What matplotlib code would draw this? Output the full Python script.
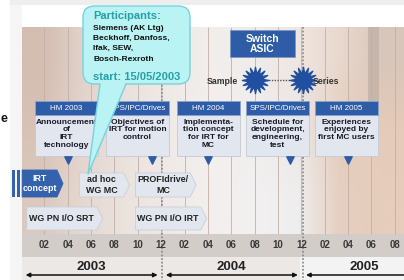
import numpy as np
import matplotlib.pyplot as plt
from matplotlib.colors import to_rgb
from matplotlib.patches import Rectangle, Polygon, FancyBboxPatch
from matplotlib.path import Path

plt.rcParams['font.family'] = ['Liberation Sans', 'DejaVu Sans']

# timeline (months counted from Jan 2003)
tick_months = [2, 4, 6, 8, 10, 12, 14, 16, 18, 20, 22, 24, 26, 28, 30, 32]
tick_labels = ['02', '04', '06', '08', '10', '12', '02', '04', '06', '08', '10', '12',
               '02', '04', '06', '08']
years = ['2003', '2004', '2005']
year_edges = [0, 12, 24, 36]
year_label_months = [6, 18, 29.4]

# fairs
milestone_months = [4, 11.2, 16, 23, 28]
milestone_events = ['HM 2003', 'SPS/IPC/Drives', 'HM 2004', 'SPS/IPC/Drives', 'HM 2005']
milestone_texts = ['Announcement\nof\nIRT\ntechnology',
                   'Objectives of\nIRT for motion\ncontrol',
                   'Implementa-\ntion concept\nfor IRT for\nMC',
                   'Schedule for\ndevelopment,\nengineering,\ntest',
                   'Experiences\nenjoyed by\nfirst MC users']

# working group phases
phase_names = ['IRT\nconcept', 'ad hoc\nWG MC', 'PROFIdrive/\nMC', 'WG PN I/O SRT', 'WG PN I/O IRT']
phase_start = [0.1, 5.0, 9.8, 0.5, 9.8]
phase_end = [3.6, 9.3, 15.0, 7.0, 15.9]
phase_row = [0, 0, 0, 1, 1]

participants = ['Siemens (AK Ltg)', 'Beckhoff, Danfoss,', 'Ifak, SEW,', 'Bosch-Rexroth']
start_date = '15/05/2003'

asic_months = [20.0, 24.1]
asic_labels = ['Sample', 'Series']

# layout helpers: pixel x -> month
X0, PXM = 20.95, 11.683
def px(x):
    return (x - X0) / PXM

BLUE = '#2e5ca7'
BOX = '#e2e6ee'

fig = plt.figure(figsize=(4.04, 2.80), dpi=100)
ax = fig.add_axes([0, 0, 1, 1])
ax.set_xlim(px(0), px(404))
ax.set_ylim(280, 0)
ax.axis('off')

# slide frame
ax.add_patch(Rectangle((px(10), 0), px(404) - px(10), 4.5, fc='#eeeeee', ec='none', zorder=0))
ax.add_patch(Rectangle((px(10), 4.5), px(22) - px(10), 280, fc='#f5f5f5', ec='none', zorder=0))
ax.text(px(0.5), 119, 'e', ha='left', va='center', fontsize=9, fontweight='bold', color='#111')

# photo background
bg = [['#d4bdb1', '#e2d3cb', '#ebe1dc', '#efe9e6', '#f1eeec', '#f0ecea', '#efe6e1', '#e9d8cd', '#d8c6bb'],
      ['#d8c2b6', '#e4d5cd', '#ece2dd', '#f0ebe8', '#f3f0ef', '#f1eeee', '#ece6e4', '#e6cdbd', '#e5cbb9'],
      ['#dcc9be', '#e6d9d2', '#ebe3de', '#efeae7', '#f2efee', '#f2f0f0', '#efeeee', '#e5cfc0', '#e6cdbc']]
img = np.array([[to_rgb(c) for c in row] for row in bg])
ax.imshow(img, extent=(px(22), px(404), 234, 27), aspect='auto', interpolation='bilinear', zorder=0)
ax.add_patch(Rectangle((px(368), 27), 11 / PXM, 80, fc='#bfaea4', ec='none', alpha=0.7, zorder=0.5))
ax.add_patch(Rectangle((px(22), 234), px(404) - px(22), 23, fc='#d3cdc9', ec='none', zorder=0.5))
ax.add_patch(Rectangle((px(22), 257), px(404) - px(22), 23, fc='#ebe8e6', ec='none', zorder=0.5))
ax.add_patch(Rectangle((px(300), 257), px(404) - px(300), 23, fc='#f4f3f3', ec='none', zorder=0.6))

ax.vlines(tick_months, 27, 234, colors='#bfb0a8', lw=0.6, zorder=1)
ax.vlines([year_edges[1] + 0.1, year_edges[2] + 0.1], 27, 280, colors='#8f8f8f',
          linestyles=(0, (1, 1)), lw=1.3, zorder=2)

# month ticks and years
for m, lab in zip(tick_months, tick_labels):
    ax.text(m, 245, lab, ha='center', va='center', fontsize=7, fontweight='bold', color='#3a3a3a', zorder=3)
for i, y in enumerate(years):
    ax.annotate('', xy=(year_edges[i] + 0.4, 275), xytext=(year_edges[i + 1] - 0.3, 275),
                arrowprops=dict(arrowstyle='<|-|>', color='#111', lw=1.1, mutation_scale=6,
                                shrinkA=0, shrinkB=0), annotation_clip=False, zorder=3)
    ax.text(year_label_months[i], 267, y, ha='center', va='center', fontsize=9.5,
            fontweight='bold', color='#222', zorder=3)

# fair boxes
box_left = [35, 106, 177, 246, 315]
BOX_W = 63 / PXM
for i in range(len(milestone_events)):
    x0 = px(box_left[i])
    ax.add_patch(Rectangle((x0, 115), BOX_W, 41, fc=BOX, ec='#c3cad6', lw=0.6, zorder=3))
    ax.add_patch(Rectangle((x0, 101), BOX_W, 14, fc=BLUE, ec='#8aa3cf', lw=0.6, zorder=3))
    ax.text(x0 + BOX_W / 2, 108.5, milestone_events[i], ha='center', va='center',
            fontsize=5.8, color='white', zorder=4)
    ax.text(x0 + BOX_W / 2, 118.5, milestone_texts[i], ha='center', va='top', fontsize=6,
            fontweight='bold', color='#1a1a2a', linespacing=1.15, zorder=4)
ax.scatter(milestone_months, [160] * len(milestone_months), marker='v', s=28, color=BLUE, zorder=4)

# phase arrows
row_y = [(173, 197), (207, 230)]
tip = 6 / PXM
for i, (name, s, e, r) in enumerate(zip(phase_names, phase_start, phase_end, phase_row)):
    y0, y1 = row_y[r]
    if i == 0:
        y0 = 170
    pts = [(s, y0), (e - tip, y0), (e, (y0 + y1) / 2), (e - tip, y1), (s, y1)]
    fc = '#3562ad' if i == 0 else BOX
    ec = '#3562ad' if i == 0 else '#c8cfda'
    ax.add_patch(Polygon(pts, closed=True, fc=fc, ec=ec, lw=0.6, zorder=3))
    ax.text((s + e - tip) / 2, (y0 + y1) / 2, name, ha='center', va='center', fontsize=6.4,
            fontweight='bold', color='white' if i == 0 else '#222', linespacing=1.15, zorder=4)
for xb in (12, 17):
    ax.add_patch(Rectangle((px(xb), 170), 3 / PXM, 27, fc='#3562ad', ec='none', zorder=3))

# switch ASIC
ax.add_patch(Rectangle((px(230), 30), 65 / PXM, 27, fc=BLUE, ec='#7d98c8', lw=0.6, zorder=3))
ax.text(px(262.5), 44, 'Switch\nASIC', ha='center', va='center', fontsize=7.5,
        fontweight='bold', color='white', linespacing=1.1, zorder=4)
ax.plot([px(263), px(292)], [80, 80], ls=(0, (1, 1)), color='#555', lw=1, zorder=3)
star = Path.unit_regular_star(16, 0.5)
ax.scatter(asic_months, [80] * len(asic_months), marker=star, s=360, color='#1f4f9e', zorder=4)
ax.text(px(222), 81, asic_labels[0], ha='center', va='center', fontsize=6.3, fontweight='bold', color='#333', zorder=4)
ax.text(px(326), 82, asic_labels[1], ha='center', va='center', fontsize=6.3, fontweight='bold', color='#333', zorder=4)

# participants callout
CYAN, CEDGE, TEAL = '#b9f3f3', '#76d3dc', '#26a0a6'
ax.add_patch(FancyBboxPatch((px(83), 6), (190 - 83) / PXM, 78, boxstyle='round,pad=0,rounding_size=1.0',
                            mutation_aspect=PXM, fc=CYAN, ec=CEDGE, lw=1.0, zorder=5))
ax.add_patch(Polygon([(px(100), 82.5), (px(126), 82.5), (px(88), 174)], closed=True,
                     fc=CYAN, ec='none', zorder=5.5))
ax.plot([px(100), px(88), px(126)], [84, 174, 84], color=CEDGE, lw=1.0, zorder=5.6)
ax.text(px(93), 16, 'Participants:', ha='left', va='center', fontsize=8, fontweight='bold', color=TEAL, zorder=6)
for k, p in enumerate(participants):
    ax.text(px(93), 28 + k * 10.4, p, ha='left', va='center', fontsize=6, fontweight='bold', color='#111', zorder=6)
ax.text(px(93), 77, 'start: ' + start_date, ha='left', va='center', fontsize=8, fontweight='bold', color=TEAL, zorder=6)

fig.savefig('out.png', dpi=100)
